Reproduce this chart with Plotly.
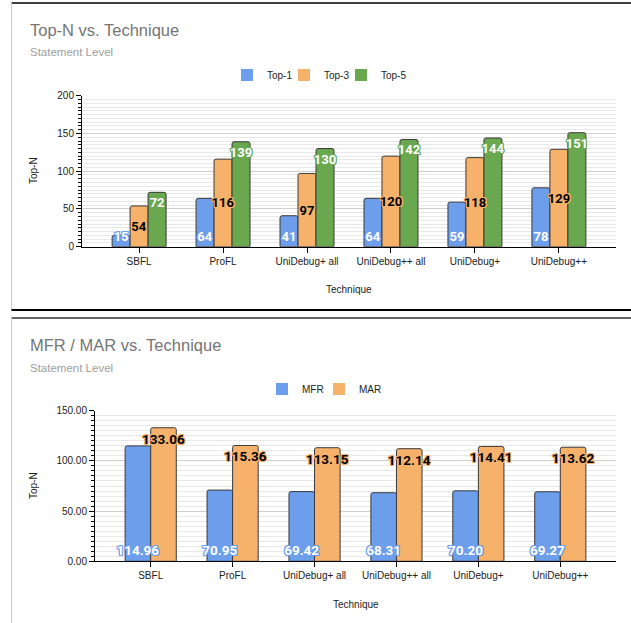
import plotly.graph_objects as go

# ---- data -------------------------------------------------------------
techniques = ["SBFL", "ProFL", "UniDebug+ all", "UniDebug++ all", "UniDebug+", "UniDebug++"]
top1 = [15, 64, 41, 64, 59, 78]
top3 = [54, 116, 97, 120, 118, 129]
top5 = [72, 139, 130, 142, 144, 151]
mfr = [114.96, 70.95, 69.42, 68.31, 70.20, 69.27]
mar = [133.06, 115.36, 113.15, 112.14, 114.41, 113.62]

# ---- styling ----------------------------------------------------------
W, H = 631, 623
BLUE, ORANGE, GREEN = "#6d9eeb", "#f6b26b", "#6aa84f"
EDGE = "#3a3a3a"
AXIS_FONT = "Liberation Sans, Arial, sans-serif"
LABEL_FONT = "Roboto, Arial, sans-serif"


def fx(p):
    return p / W


def fy(p):
    return 1 - p / H


def halo(c):
    return ", ".join(f"{dx}px {dy}px 0 {c}" for dx in (-1, 0, 1) for dy in (-1, 0, 1) if dx or dy)


fig = go.Figure()

# series: (name, values, colour, text colour, anchor, text format)
top_series = [
    ("Top-1", top1, BLUE, "white", "start", "%{y}"),
    ("Top-3", top3, ORANGE, "black", "middle", "%{y}"),
    ("Top-5", top5, GREEN, "white", "end", "%{y}"),
]
bot_series = [
    ("MFR", mfr, BLUE, "white", "start", "%{y:.2f}"),
    ("MAR", mar, ORANGE, "black", "end", "%{y:.2f}"),
]


def add_group(series, bw, xa, ya, legend, fsize):
    n = len(series)
    offsets = [(-n / 2 + i) * bw for i in range(n)]
    # filled bars
    for (name, vals, col, tcol, anc, fmt), off in zip(series, offsets):
        fig.add_trace(go.Bar(
            x=techniques, y=vals, width=bw, offset=off, xaxis=xa, yaxis=ya,
            marker=dict(color=col, line=dict(color=EDGE, width=1), cornerradius=2),
            showlegend=False, hoverinfo="skip", name=name,
        ))
    # value labels drawn on top of every bar
    for (name, vals, col, tcol, anc, fmt), off in zip(series, offsets):
        fig.add_trace(go.Bar(
            x=techniques, y=vals, width=bw, offset=off, xaxis=xa, yaxis=ya,
            marker=dict(color="rgba(0,0,0,0)", line=dict(width=0)),
            texttemplate=fmt, textposition="inside", insidetextanchor=anc,
            textangle=0, constraintext="none",
            textfont=dict(family=LABEL_FONT, size=fsize, color=tcol, weight="bold",
                          shadow=halo(col)),
            showlegend=False, hoverinfo="skip", name=name,
        ))
    # legend keys
    for name, vals, col, tcol, anc, fmt in series:
        fig.add_trace(go.Bar(
            x=[techniques[0]], y=[None], xaxis=xa, yaxis=ya, name=name,
            marker=dict(color=col, line=dict(width=0)), legend=legend,
            hoverinfo="skip",
        ))
    # blank trailing slot so the last legend label is not cut off
    fig.add_trace(go.Bar(
        x=[techniques[0]], y=[None], xaxis=xa, yaxis=ya, name=" ",
        marker=dict(color="rgba(0,0,0,0)", line=dict(width=0)), legend=legend,
        hoverinfo="skip",
    ))


add_group(top_series, 18 / 84, "x", "y", "legend", 13)
add_group(bot_series, 25.6 / 82, "x2", "y2", "legend2", 13.5)

axis_common = dict(
    showline=True, linecolor="black", linewidth=1, ticks="outside", ticklen=5,
    tickcolor="black", tickfont=dict(family=AXIS_FONT, size=10, color="#222222"),
    automargin=False,
)
minor = dict(dtick=5, ticks="outside", ticklen=3, tickcolor="black",
             showgrid=True, gridcolor="#e8e8e8")
legend_common = dict(orientation="h", yanchor="middle", entrywidth=12,
                     font=dict(family=AXIS_FONT, size=10, color="#222222"),
                     bgcolor="rgba(0,0,0,0)")

fig.update_layout(
    width=W, height=H, margin=dict(l=0, r=0, t=0, b=0, pad=0, autoexpand=False),
    paper_bgcolor="white", plot_bgcolor="white", barmode="overlay",
    xaxis=dict(domain=[fx(82), fx(616)], type="category", range=[-0.68, 5.68],
               showgrid=False, anchor="y", **axis_common),
    yaxis=dict(domain=[fy(246.7), fy(95.7)], range=[0, 200], dtick=50, anchor="x",
               gridcolor="#cfcfcf", zeroline=False, minor=minor, **axis_common),
    xaxis2=dict(domain=[fx(95), fx(616)], type="category", range=[-0.68, 5.68],
                showgrid=False, anchor="y2", **axis_common),
    yaxis2=dict(domain=[fy(561.3), fy(410.7)], range=[0, 150], dtick=50, tickformat=".2f",
                anchor="x2", gridcolor="#cfcfcf", zeroline=False, minor=minor,
                **axis_common),
    legend=dict(x=fx(227), xanchor="left", y=fy(75), **legend_common),
    legend2=dict(x=fx(262), xanchor="left", y=fy(389), **legend_common),
)

# titles, subtitles and axis titles
texts = [
    ("Top-N vs. Technique", 28, 30, 16.5, "#757575", "left", 0),
    ("Statement Level", 28, 52.5, 11.5, "#9e9e9e", "left", 0),
    ("MFR / MAR vs. Technique", 28, 345, 16.5, "#757575", "left", 0),
    ("Statement Level", 28, 367.5, 11.5, "#9e9e9e", "left", 0),
    ("Technique", 349, 289, 10, "#222222", "center", 0),
    ("Technique", 355.5, 604, 10, "#222222", "center", 0),
    ("Top-N", 33, 171, 10, "#222222", "center", -90),
    ("Top-N", 33, 486, 10, "#222222", "center", -90),
]
for t, x, y, s, c, xa, ang in texts:
    fig.add_annotation(text=t, x=fx(x), y=fy(y), xref="paper", yref="paper",
                       xanchor=xa, yanchor="middle", showarrow=False, textangle=ang,
                       font=dict(family=AXIS_FONT, size=s, color=c))

# chart frames
frame = [
    (11.5, 3, 631, 3, "black", 1.5),
    (11.5, 3, 11.5, 310, "#cccccc", 1),
    (11.5, 310, 631, 310, "black", 2),
    (11.5, 318, 631, 318, "#666666", 2),
    (11.5, 318, 11.5, 623, "#cccccc", 1),
]
for x0, y0, x1, y1, c, w in frame:
    fig.add_shape(type="line", xref="paper", yref="paper", x0=fx(x0), y0=fy(y0),
                  x1=fx(x1), y1=fy(y1), line=dict(color=c, width=w))

fig.write_html("out.html")
